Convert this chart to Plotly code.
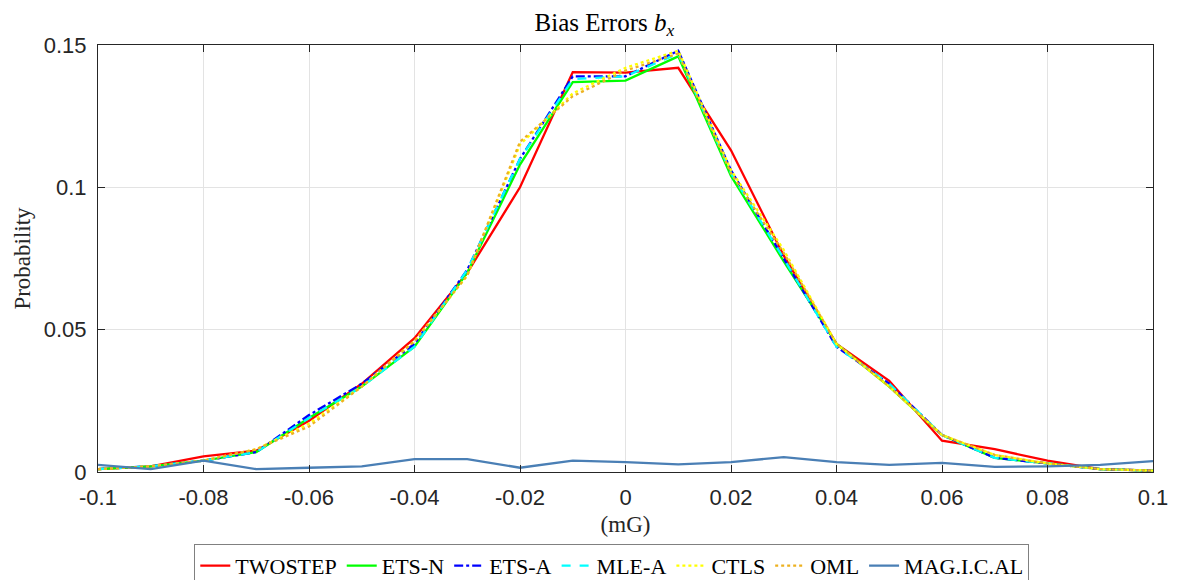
import plotly.graph_objects as go

# bin centres (mG)
x_vals = [-0.1, -0.09, -0.08, -0.07, -0.06, -0.05, -0.04, -0.03, -0.02, -0.01, 0.0,
          0.01, 0.02, 0.03, 0.04, 0.05, 0.06, 0.07, 0.08, 0.09, 0.1]

# probabilities
twostep = [0.001, 0.002, 0.0055, 0.0075, 0.018, 0.031, 0.047, 0.070, 0.100, 0.1405, 0.1403,
           0.142, 0.113, 0.076, 0.045, 0.032, 0.011, 0.008, 0.004, 0.001, 0.0005]
ets_n = [0.001, 0.002, 0.004, 0.007, 0.019, 0.030, 0.044, 0.070, 0.108, 0.137, 0.1375,
         0.146, 0.104, 0.074, 0.045, 0.030, 0.013, 0.005, 0.003, 0.001, 0.0005]
ets_a = [0.001, 0.002, 0.004, 0.007, 0.020, 0.031, 0.045, 0.071, 0.110, 0.139, 0.139,
         0.148, 0.106, 0.075, 0.044, 0.031, 0.013, 0.005, 0.003, 0.001, 0.0005]
mle_a = [0.001, 0.002, 0.004, 0.007, 0.019, 0.030, 0.044, 0.071, 0.110, 0.138, 0.139,
         0.147, 0.105, 0.075, 0.044, 0.031, 0.013, 0.005, 0.003, 0.001, 0.0005]
ctls = [0.001, 0.002, 0.004, 0.008, 0.017, 0.030, 0.046, 0.069, 0.115, 0.133, 0.142,
        0.148, 0.106, 0.078, 0.045, 0.030, 0.013, 0.006, 0.003, 0.001, 0.0005]
oml = [0.001, 0.002, 0.004, 0.008, 0.016, 0.030, 0.046, 0.069, 0.116, 0.132, 0.141,
       0.147, 0.105, 0.077, 0.045, 0.030, 0.013, 0.006, 0.003, 0.001, 0.0005]
magical = [0.0025, 0.001, 0.004, 0.001, 0.0015, 0.002, 0.0045, 0.0045, 0.0015, 0.004, 0.0035,
           0.0027, 0.0035, 0.0052, 0.0035, 0.0025, 0.0032, 0.0018, 0.002, 0.0025, 0.0038]

x_ticks = [-0.1, -0.08, -0.06, -0.04, -0.02, 0, 0.02, 0.04, 0.06, 0.08, 0.1]
x_tick_text = ["-0.1", "-0.08", "-0.06", "-0.04", "-0.02", "0", "0.02", "0.04", "0.06", "0.08", "0.1"]
y_ticks = [0, 0.05, 0.1, 0.15]
y_tick_text = ["0", "0.05", "0.1", "0.15"]

series = [
    ("TWOSTEP", twostep, "#ff0000", "solid"),
    ("ETS-N", ets_n, "#00ff00", "solid"),
    ("ETS-A", ets_a, "#0000ff", "dashdot"),
    ("MLE-A", mle_a, "#00ffff", "dash"),
    ("CTLS", ctls, "#ffff00", "dot"),
    ("OML", oml, "#edb120", "dot"),
    ("MAG.I.C.AL", magical, "#4a7fb5", "solid"),
]

fig = go.Figure()
for name, vals, col, dash in series:
    fig.add_trace(go.Scatter(x=x_vals, y=vals, mode="lines", name=name,
                             line=dict(color=col, width=2.3, dash=dash)))

serif = "Liberation Serif"
sans = "Liberation Sans"

fig.update_layout(
    width=1178, height=580,
    margin=dict(l=98, r=25, t=45, b=108, autoexpand=False),
    paper_bgcolor="white", plot_bgcolor="white",
    title=dict(text="Bias Errors <i>b</i><sub><i>x</i></sub>", x=0.48, xanchor="center",
               xref="paper", y=0.962, yanchor="middle",
               font=dict(family=serif, size=25, color="black")),
    font=dict(family=sans, size=22, color="#262626"),
    showlegend=True,
    legend=dict(orientation="h", x=0.487, xanchor="center", y=-0.168, yanchor="top",
                font=dict(family=serif, size=22, color="black"),
                bordercolor="#808080", borderwidth=1, bgcolor="white",
                tracegroupgap=0),
)
fig.update_xaxes(range=[-0.1, 0.1], tickvals=x_ticks, ticktext=x_tick_text,
                 showgrid=True, gridcolor="#e3e3e3", gridwidth=1,
                 showline=True, linecolor="#262626", linewidth=1, mirror="ticks",
                 ticks="inside", ticklen=7, tickcolor="#262626", ticklabelstandoff=6,
                 zeroline=False, automargin=False,
                 tickfont=dict(family=sans, size=22, color="#262626"),
                 title=dict(text="(mG)", font=dict(family=serif, size=23, color="#262626"), standoff=6))
fig.update_yaxes(range=[0, 0.15], tickvals=y_ticks, ticktext=y_tick_text,
                 showgrid=True, gridcolor="#e3e3e3", gridwidth=1,
                 showline=True, linecolor="#262626", linewidth=1, mirror="ticks",
                 ticks="inside", ticklen=7, tickcolor="#262626", ticklabelstandoff=6,
                 zeroline=False, automargin=False,
                 tickfont=dict(family=sans, size=22, color="#262626"),
                 title=dict(text="Probability", font=dict(family=serif, size=23, color="#262626"), standoff=6))

# drop the page's default body margin so the figure sits at the window's corner
fig.write_html("out.html", config={"displayModeBar": False},
               post_script="document.body.style.margin='0';document.body.style.overflow='hidden';")
